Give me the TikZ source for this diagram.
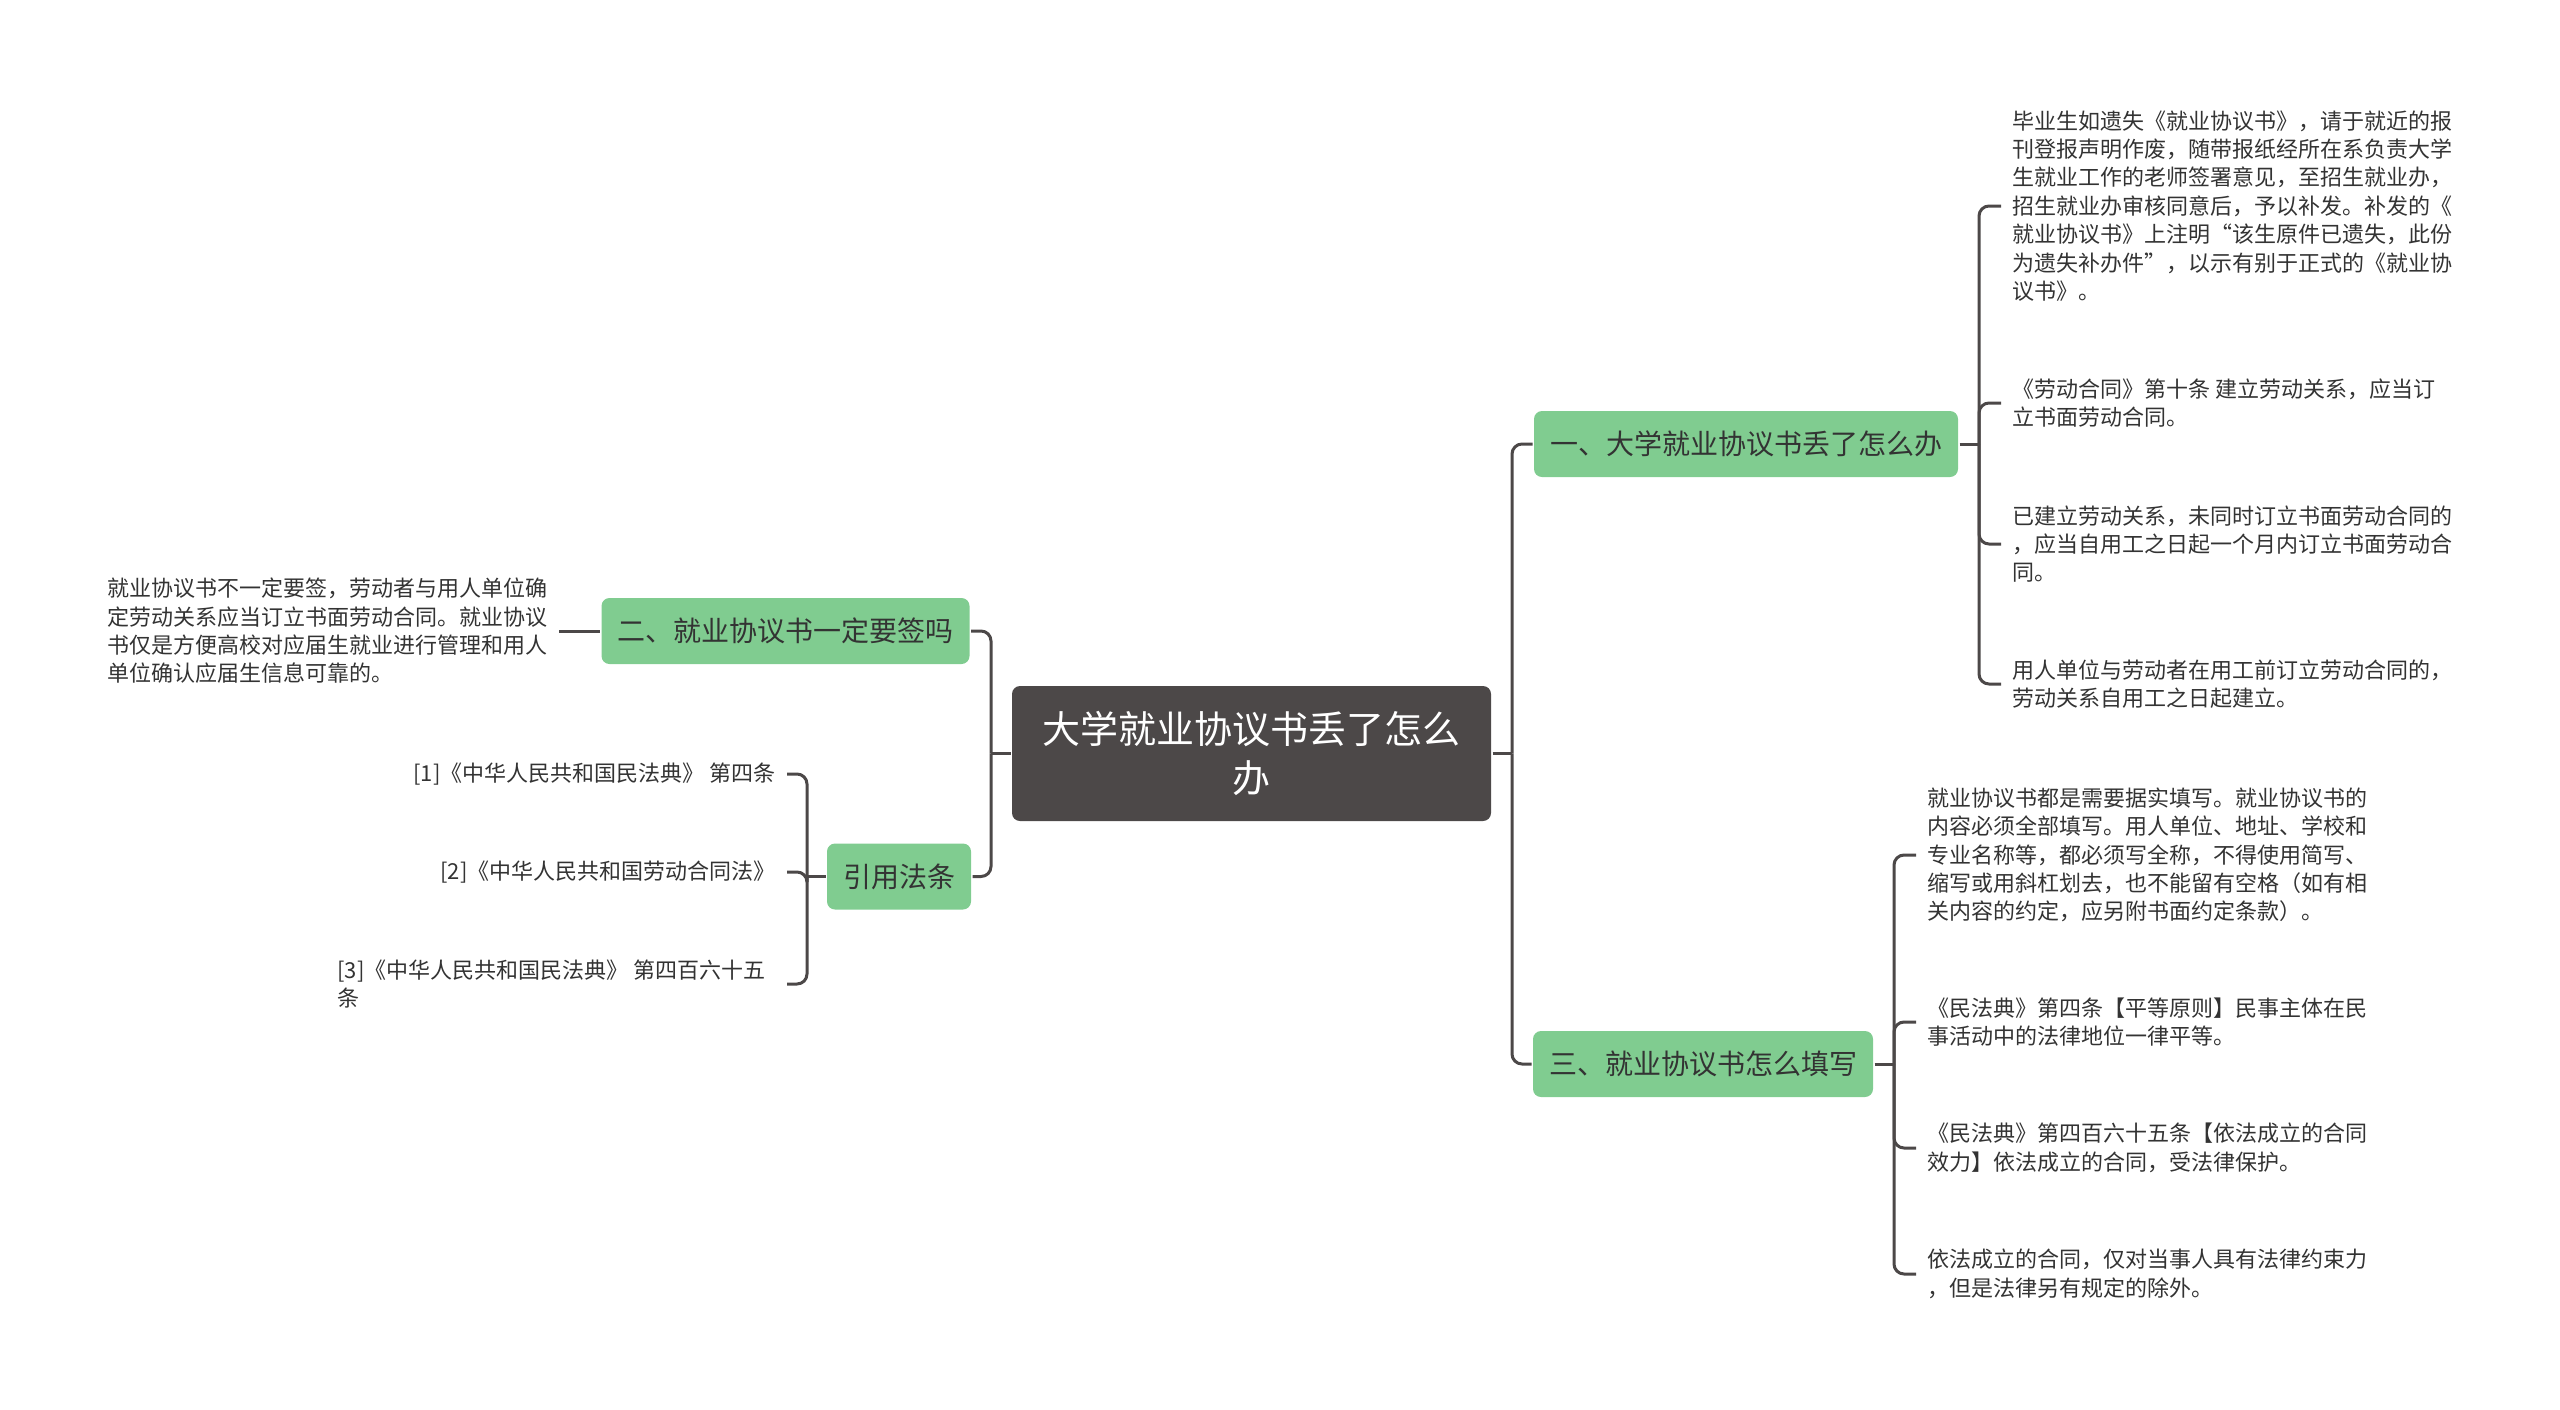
\documentclass[tikz,border=0pt]{standalone}
\usepackage{fontspec}
\setmainfont{Noto Sans CJK SC}
\usetikzlibrary{calc}
\definecolor{green1}{RGB}{128, 204, 144}
\definecolor{gray1}{RGB}{76, 72, 72}
\definecolor{text1}{RGB}{51, 51, 51}

\begin{document}
\begin{tikzpicture}[x=0.5pt, y=-0.5pt, line width=1.5pt,
  link/.style={draw=gray1, rounded corners=5pt},
  rootbox/.style={fill=gray1, text=white, rounded corners=4pt, align=center,
    minimum width=239.5pt, minimum height=67.5pt,
    font=\fontsize{19pt}{24.5pt}\selectfont},
  topic/.style={fill=green1, text=text1, rounded corners=4pt, inner xsep=8pt,
    minimum height=33pt, font=\fontsize{14pt}{17pt}\selectfont},
  leaf/.style={text=text1, align=left, inner xsep=5pt, inner ysep=0pt,
    font=\fontsize{11pt}{14.2pt}\selectfont}]
  \useasboundingbox (0,0) rectangle (2560,1409);
  \node[rootbox] (root) at (1251.5,753.5) {大学就业协议书丢了怎么\\办};
  \node[topic] (b1) at (1746,444) {一、大学就业协议书丢了怎么办};
  \node[topic] (b3) at (1703,1064) {三、就业协议书怎么填写};
  \node[topic] (b2) at (785.5,631) {二、就业协议书一定要签吗};
  \node[topic] (ref) at (899,876.5) {引用法条};
  \coordinate (rs) at (1512,753.5);
  \coordinate (ls) at (991,753.5);
  \coordinate (s1) at (1979,444);
  \coordinate (s3) at (1894,1064);
  \coordinate (sr) at (807,876.5);
  % leaves of b1
  \node[leaf, anchor=west] (l11) at (2001,206) {毕业生如遗失《就业协议书》，请于就近的报\\刊登报声明作废，随带报纸经所在系负责大学\\生就业工作的老师签署意见，至招生就业办，\\招生就业办审核同意后，予以补发。补发的《\\就业协议书》上注明“该生原件已遗失，此份\\为遗失补办件”，以示有别于正式的《就业协\\议书》。};
  \node[leaf, anchor=west] (l12) at (2001,403) {《劳动合同》第十条 建立劳动关系，应当订\\立书面劳动合同。};
  \node[leaf, anchor=west] (l13) at (2001,544) {已建立劳动关系，未同时订立书面劳动合同的\\，应当自用工之日起一个月内订立书面劳动合\\同。};
  \node[leaf, anchor=west] (l14) at (2001,684) {用人单位与劳动者在用工前订立劳动合同的，\\劳动关系自用工之日起建立。};
  % leaves of b3
  \node[leaf, anchor=west] (l31) at (1916,855) {就业协议书都是需要据实填写。就业协议书的\\内容必须全部填写。用人单位、地址、学校和\\专业名称等，都必须写全称，不得使用简写、\\缩写或用斜杠划去，也不能留有空格（如有相\\关内容的约定，应另附书面约定条款）。};
  \node[leaf, anchor=west] (l32) at (1916,1022) {《民法典》第四条【平等原则】民事主体在民\\事活动中的法律地位一律平等。};
  \node[leaf, anchor=west] (l33) at (1916,1148) {《民法典》第四百六十五条【依法成立的合同\\效力】依法成立的合同，受法律保护。};
  \node[leaf, anchor=west] (l34) at (1916,1274) {依法成立的合同，仅对当事人具有法律约束力\\，但是法律另有规定的除外。};
  % left side
  \node[leaf, anchor=east] (l21) at (559,631) {就业协议书不一定要签，劳动者与用人单位确\\定劳动关系应当订立书面劳动合同。就业协议\\书仅是方便高校对应届生就业进行管理和用人\\单位确认应届生信息可靠的。};
  \node[leaf, anchor=east] (r1) at (787,774) {[1]《中华人民共和国民法典》 第四条};
  \node[leaf, anchor=east] (r2) at (787,872) {[2]《中华人民共和国劳动合同法》};
  \node[leaf, anchor=east, inner xsep=10pt] (r3) at (787,984) {[3]《中华人民共和国民法典》 第四百六十五\\条};
  % connectors
  \draw[link] (root.east) -- (rs);
  \draw[link] (root.west) -- (ls);
  \foreach \to in {b1,b3}
    \draw[link] (rs) |- (\to.west);
  \foreach \to in {b2,ref}
    \draw[link] (ls) |- (\to.east);
  \draw[link] (b1.east) -- (s1);
  \foreach \to in {l11,l12,l13,l14}
    \draw[link] (s1) |- (\to.west);
  \draw[link] (b3.east) -- (s3);
  \foreach \to in {l31,l32,l33,l34}
    \draw[link] (s3) |- (\to.west);
  \draw[link] (ref.west) -- (sr);
  \foreach \to in {r1,r2,r3}
    \draw[link] (sr) |- (\to.east);
  \draw[link] (l21.east) -- (b2.west);
\end{tikzpicture}
\end{document}
